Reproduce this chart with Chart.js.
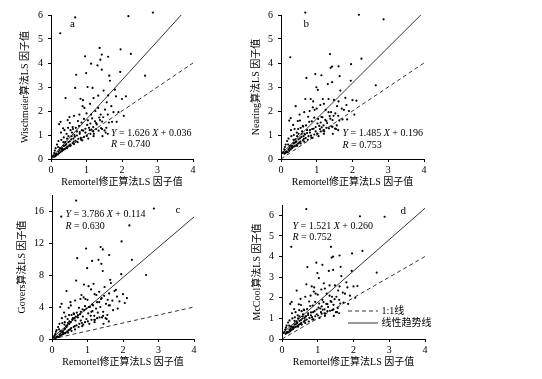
<!DOCTYPE html>
<html><head><meta charset="utf-8">
<script src="https://cdn.jsdelivr.net/npm/chart.js@4/dist/chart.umd.min.js"></script>
<style>
html,body{margin:0;padding:0;background:#fff;}
body{width:542px;height:379px;overflow:hidden;position:relative;font-family:"Liberation Serif","Noto Sans CJK SC",serif;color:#000;}
canvas{position:absolute;}
.t{position:absolute;font-size:10px;line-height:12px;white-space:nowrap;color:#000;}
.lt{position:absolute;font-size:11px;line-height:12px;white-space:nowrap;color:#000;}
</style></head><body>
<canvas id="ca" width="230" height="190" style="left:0;top:0"></canvas>
<canvas id="cb" width="230" height="190" style="left:230px;top:0"></canvas>
<canvas id="cc" width="230" height="189" style="left:0;top:190px"></canvas>
<canvas id="cd" width="312" height="189" style="left:230px;top:190px"></canvas>
<script>
// ---- data (Remortel x shared by the four panels) ----
const xVals = [
0.68,2.18,2.87,0.26,4.12,1.37,1.96,2.25,1.43,1.39,
1.61,0.96,1.13,1.31,1.43,1.95,0.71,0.99,1.64,1.66,
2.65,0.68,1.03,1.17,1.80,1.48,0.41,0.83,1.33,1.20,
1.61,1.83,2.11,1.57,0.94,0.89,1.33,1.52,1.13,0.27,
0.23,0.34,0.47,0.53,0.61,0.76,0.79,0.86,0.93,1.02,
1.04,1.11,1.16,1.19,1.24,1.29,1.36,1.41,1.44,1.51,
1.54,1.27,1.19,1.09,0.97,0.87,0.81,0.73,0.66,0.59,
0.49,0.44,0.36,0.29,0.21,0.17,0.13,0.11,0.09,0.07,
0.05,0.14,0.19,0.21,0.23,0.24,0.27,0.29,0.31,0.31,
0.33,0.36,0.37,0.39,0.41,0.43,0.43,0.47,0.49,0.51,
0.53,0.54,0.57,0.61,0.63,0.64,0.67,0.69,0.73,0.77,
0.81,0.84,0.91,0.93,0.97,1.01,1.07,1.11,1.14,1.21,
1.27,1.34,1.38,1.44,1.47,1.56,1.63,1.72,1.76,0.40,
0.45,0.35,0.25,0.20,0.55,0.62,0.70,0.48,0.38,0.28,
0.52,0.65,0.80,1.00,0.90,1.10,1.25,1.40,1.70,1.90,
2.05,1.85,1.60,2.00,0.35,0.58,0.75,0.88,1.05,1.20,
0.12,0.10,0.14,0.16,0.55,0.45,0.65,0.85,1.45,1.60];
const wischmeier = [
5.90,5.95,6.10,5.24,4.90,4.63,4.57,4.38,4.35,4.14,
4.26,4.28,3.97,3.90,3.72,3.63,3.51,3.58,3.47,3.26,
3.47,2.96,3.00,2.96,2.89,2.85,2.54,2.51,2.64,2.54,
2.65,2.61,2.61,2.36,2.13,2.20,2.13,2.06,1.85,1.55,
1.45,1.28,1.62,1.50,1.33,1.58,1.38,1.52,1.67,1.42,
1.61,1.48,1.69,1.33,1.57,1.44,1.73,1.29,1.56,1.19,
1.10,1.25,1.15,1.20,1.10,1.20,1.05,1.15,1.00,1.10,
0.95,1.05,0.90,0.80,0.75,0.60,0.45,0.35,0.25,0.15,
0.10,0.20,0.19,0.30,0.24,0.36,0.29,0.41,0.33,0.45,
0.38,0.40,0.55,0.42,0.58,0.47,0.62,0.52,0.70,0.56,
0.74,0.60,0.82,0.66,0.85,0.72,0.93,0.76,0.98,0.84,
1.12,0.88,1.18,0.92,1.26,0.96,1.30,1.05,1.22,1.05,
1.50,1.18,1.62,1.25,1.74,1.30,1.52,1.55,1.95,0.70,
0.85,0.55,0.45,0.50,1.20,1.25,1.30,1.30,1.20,1.10,
1.75,1.80,1.85,1.90,2.45,2.30,2.00,1.85,2.20,1.95,
1.80,1.55,1.85,2.50,0.70,0.95,0.70,0.78,0.85,0.95,
0.12,0.10,0.15,0.20,0.55,0.45,0.62,0.80,0.95,1.05];
const nearing = [
6.10,6.01,5.82,4.24,5.00,4.37,3.95,4.18,3.85,3.80,
3.86,3.54,3.49,3.12,3.20,3.26,3.38,2.99,3.45,2.85,
3.07,2.50,2.88,2.50,2.55,2.46,2.20,2.50,2.50,2.30,
2.40,2.25,2.43,2.20,2.05,2.15,1.95,1.90,1.75,1.70,
1.60,1.42,1.58,1.60,1.38,1.76,1.55,1.57,1.72,1.48,
1.67,1.52,1.74,1.40,1.63,1.50,1.79,1.36,1.62,1.27,
1.25,1.30,1.20,1.25,1.15,1.25,1.10,1.20,1.05,1.15,
1.05,1.10,1.00,0.95,0.85,0.75,0.60,0.50,0.40,0.30,
0.25,0.30,0.28,0.40,0.34,0.46,0.40,0.52,0.45,0.56,
0.50,0.52,0.66,0.54,0.70,0.58,0.74,0.64,0.82,0.68,
0.86,0.72,0.92,0.78,0.95,0.84,1.02,0.87,1.08,0.95,
1.20,0.98,1.26,1.02,1.33,1.06,1.38,1.15,1.32,1.15,
1.58,1.28,1.68,1.34,1.80,1.40,1.60,1.65,2.05,0.82,
0.95,0.65,0.55,0.60,1.30,1.35,1.40,1.25,1.25,1.20,
1.85,1.95,2.00,2.10,2.40,2.25,2.05,1.95,2.10,2.00,
1.85,1.65,1.80,2.45,0.80,1.05,0.80,0.88,0.95,1.05,
0.25,0.22,0.28,0.32,0.65,0.55,0.72,0.90,1.05,1.20];
const govers = [
17.3,14.2,16.3,15.3,7.9,11.5,12.2,9.9,11.2,9.4,
10.5,11.3,9.76,9.9,8.5,8.1,10.1,8.85,7.4,7.0,
8.0,7.3,6.6,6.9,6.15,6.5,6.0,5.5,5.9,5.6,
5.7,5.3,5.1,4.9,5.0,5.2,4.6,4.4,4.3,4.4,
4.0,3.3,3.9,4.2,3.2,3.9,3.1,3.7,4.1,3.2,
4.0,3.4,4.2,2.9,3.8,3.3,4.0,2.7,3.4,2.6,
2.5,2.6,2.4,2.9,2.5,2.8,2.3,2.7,2.3,2.6,
2.2,2.5,2.1,2.0,1.9,1.5,1.1,0.9,0.6,0.4,
0.25,0.30,0.25,0.55,0.40,0.70,0.50,0.85,0.60,1.00,
0.75,0.70,1.30,0.80,1.50,0.95,1.70,1.10,1.90,1.20,
2.10,1.35,2.40,1.50,2.60,1.60,2.80,1.70,3.00,1.90,
3.40,2.00,3.60,2.10,3.80,2.20,4.00,2.40,3.50,2.40,
4.60,2.70,5.00,2.90,5.40,3.00,4.20,3.60,6.00,1.6,
2.0,1.2,1.0,1.2,3.0,3.1,3.3,3.0,2.8,2.6,
4.6,4.8,5.0,4.9,6.8,6.2,5.5,5.1,4.8,4.7,
4.5,3.8,4.2,5.6,1.8,2.5,1.5,1.8,1.9,2.1,
0.2,0.15,0.25,0.3,1.0,0.8,1.2,1.6,1.9,2.2];
const mccool = [
6.30,5.95,5.93,4.47,5.30,4.47,4.15,4.27,4.00,3.95,
4.05,3.70,3.60,3.30,3.35,3.30,3.49,3.20,3.50,3.05,
3.22,2.65,2.95,2.70,2.75,2.60,2.35,2.55,2.60,2.45,
2.55,2.50,2.57,2.35,2.20,2.30,2.10,2.05,1.90,1.80,
1.70,1.45,1.68,1.65,1.43,1.82,1.60,1.62,1.80,1.52,
1.72,1.58,1.79,1.44,1.70,1.55,1.84,1.40,1.66,1.30,
1.30,1.35,1.25,1.30,1.20,1.30,1.15,1.25,1.10,1.20,
1.10,1.15,1.05,1.00,0.90,0.80,0.65,0.55,0.45,0.35,
0.30,0.33,0.32,0.44,0.38,0.50,0.44,0.56,0.49,0.60,
0.54,0.57,0.71,0.59,0.75,0.63,0.79,0.69,0.88,0.73,
0.92,0.78,0.99,0.84,1.02,0.90,1.10,0.94,1.16,1.02,
1.29,1.06,1.35,1.10,1.43,1.14,1.48,1.23,1.42,1.23,
1.69,1.37,1.80,1.44,1.93,1.50,1.72,1.77,2.20,0.85,
1.00,0.70,0.60,0.65,1.35,1.40,1.45,1.40,1.30,1.25,
1.95,2.05,2.10,2.15,2.50,2.40,2.20,2.05,2.25,2.10,
2.00,1.70,1.90,2.55,0.88,1.10,0.85,0.95,1.02,1.12,
0.28,0.25,0.30,0.35,0.70,0.60,0.78,0.95,1.12,1.25];
const slopes = [1.626, 1.485, 3.786, 1.521];
const intercepts = [0.036, 0.196, 0.114, 0.260];
const rValues = [0.740, 0.753, 0.630, 0.752];
const panelLetters = ['a','b','c','d'];
const yTitles = ['Wischmeier算法LS 因子值','Nearing算法LS 因子值','Govers算法LS 因子值','McCool算法LS 因子值'];
const xTitle = 'Remortel修正算法LS 因子值';
const xAxisMax = 4, xTickStep = 1;
const yAxisMax = [6, 6, 18, 6.5];
const yTickStep = [1, 1, 4, 1];
const oneToOne = [0, 4];
const legendLabels = ['1:1线', '线性趋势线'];

// ---- layout (pixels) ----
const panels = [
  {id:'ca', ys:wischmeier, pt:15, pr:37, yW:51, xH:31, yTP:19,   xTP:1.3,
   eq:[111,132.5], r:144, letter:[70,17]},
  {id:'cb', ys:nearing,    pt:15, pr:36, yW:51, xH:31, yTP:20.7, xTP:1.3,
   eq:[342.5,133], r:145, letter:[303.5,17]},
  {id:'cc', ys:govers,     pt:5,  pr:36, yW:52, xH:40, yTP:16.7, xTP:10.3,
   eq:[65.5,214.3], r:225.7, letter:[175.5,203.3]},
  {id:'cd', ys:mccool,     pt:15, pr:117,yW:52, xH:40, yTP:21.3, xTP:10.3,
   eq:[292.5,225.8], r:237.2, letter:[400.5,204]}
];
const serif = '"Liberation Serif","Noto Sans CJK SC",serif';
const xMin = Math.min(...xVals), xMax = Math.max(...xVals);

const legendPlugin = {
  id:'lg',
  afterDraw(chart){
    if (chart.canvas.id !== 'cd') return;
    const c = chart.ctx;
    c.save(); c.strokeStyle='#000'; c.lineWidth=0.8;
    c.setLineDash([4,3]); c.beginPath(); c.moveTo(118,121); c.lineTo(148,121); c.stroke();
    c.setLineDash([]); c.beginPath(); c.moveTo(118,133); c.lineTo(148,133); c.stroke();
    c.restore();
  }
};

panels.forEach((p, k) => {
  const pts = xVals.map((x, i) => ({x, y: p.ys[i]}));
  const trend = [xMin, xMax].map(x => ({x, y: slopes[k]*x + intercepts[k]}));
  const diag = oneToOne.map(v => ({x:v, y:v}));
  new Chart(document.getElementById(p.id), {
    type:'scatter',
    data:{datasets:[
      {data:pts, pointRadius:1.1, pointBorderWidth:0, pointBackgroundColor:'#000', backgroundColor:'#000', clip:false},
      {type:'line', data:trend, borderColor:'#000', borderWidth:0.8, pointRadius:0, fill:false},
      {type:'line', data:diag, borderColor:'#000', borderWidth:0.8, borderDash:[4,3], pointRadius:0, fill:false}
    ]},
    options:{
      responsive:false, animation:false, events:[],
      layout:{padding:{left:0, top:p.pt, right:p.pr, bottom:0}},
      plugins:{legend:{display:false}, tooltip:{enabled:false}},
      scales:{
        x:{type:'linear', min:0, max:xAxisMax,
           ticks:{stepSize:xTickStep, color:'#000', font:{family:serif,size:10}, padding:2, maxRotation:0},
           grid:{drawOnChartArea:false, drawTicks:true, tickLength:3, color:'#000'},
           border:{display:true, color:'#000', width:1},
           title:{display:true, text:xTitle, color:'#000', font:{family:serif,size:10}, padding:{top:0,bottom:p.xTP}},
           afterFit(s){ s.height = p.xH; s.paddingLeft = 0; s.paddingRight = 0; }},
        y:{type:'linear', min:0, max:yAxisMax[k],
           ticks:{stepSize:yTickStep[k], includeBounds:false, color:'#000', font:{family:serif,size:10}, padding:5},
           grid:{drawOnChartArea:false, drawTicks:true, tickLength:3, color:'#000'},
           border:{display:true, color:'#000', width:1},
           title:{display:true, text:yTitles[k], color:'#000', font:{family:serif,size:10}, padding:{top:p.yTP,bottom:0}},
           afterFit(s){ s.width = p.yW; s.paddingTop = 0; s.paddingBottom = 0; }}
      }
    },
    plugins:[legendPlugin]
  });

  const eq = document.createElement('div');
  eq.className = 't';
  eq.style.left = p.eq[0] + 'px'; eq.style.top = (p.eq[1]-6) + 'px';
  eq.innerHTML = '<i>Y</i> = ' + slopes[k].toFixed(3) + ' <i>X</i> + ' + intercepts[k].toFixed(3);
  document.body.appendChild(eq);
  const r = document.createElement('div');
  r.className = 't';
  r.style.left = p.eq[0] + 'px'; r.style.top = (p.r-6) + 'px';
  r.innerHTML = '<i>R</i> = ' + rValues[k].toFixed(3);
  document.body.appendChild(r);
  const L = document.createElement('div');
  L.className = 'lt';
  L.style.left = p.letter[0] + 'px'; L.style.top = p.letter[1] + 'px';
  L.textContent = panelLetters[k];
  document.body.appendChild(L);
});

legendLabels.forEach((txt, i) => {
  const d = document.createElement('div');
  d.className = 't';
  d.style.left = '381.5px'; d.style.top = (i === 0 ? 305 : 316.7) + 'px';
  d.textContent = txt;
  document.body.appendChild(d);
});
</script>
</body></html>
